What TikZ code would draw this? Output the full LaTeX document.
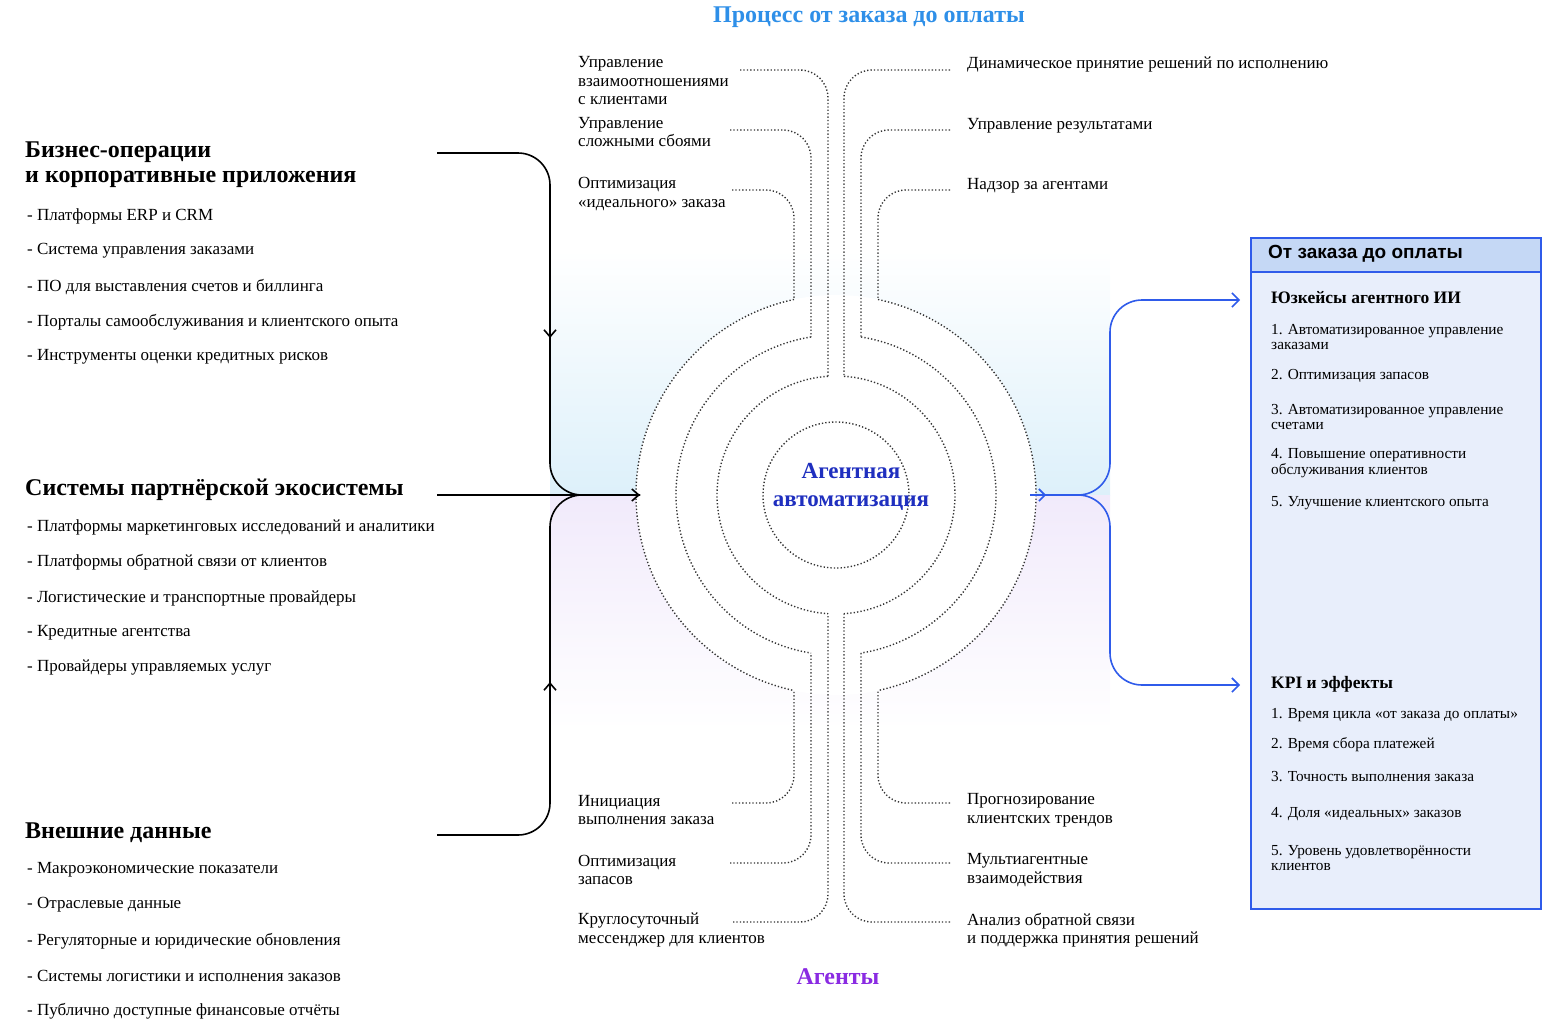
\documentclass[tikz,border=0pt]{standalone}
\usepackage{fontspec}
\setmainfont{Liberation Serif}
\newfontfamily\hdrfont{Liberation Sans}
\usetikzlibrary{arrows.meta}
\definecolor{ttlblue}{HTML}{2E8FE8}
\definecolor{cblue}{HTML}{1F2FBF}
\definecolor{aline}{HTML}{2F5BEA}
\definecolor{apurple}{HTML}{8A2BE2}
\definecolor{boxfill}{HTML}{E8EEFB}
\definecolor{boxhdfill}{HTML}{C5D8F5}
\definecolor{bgblue}{HTML}{DDF0FA}
\definecolor{bgpurple}{HTML}{F1EAFB}
\begin{document}
\begin{tikzpicture}[x=1pt,y=-1pt,
  txt/.style={anchor=west,inner sep=0pt,font=\fontsize{17}{18.5}\selectfont,align=left},
  sm/.style={anchor=west,inner sep=0pt,font=\fontsize{15.3}{15.5}\selectfont,align=left},
  hd/.style={anchor=west,inner sep=0pt,font=\fontsize{24}{25}\selectfont\bfseries,align=left},
  dots/.style={line width=1.4pt,dash pattern=on 1.3pt off 2.1pt,black!80},
  conn/.style={line width=1.6pt,rounded corners=32pt},
  bl/.style={conn,aline}]
\useasboundingbox (0,0) rectangle (1560,1025);
% background gradients
\shade[top color=white,bottom color=bgblue] (550,250) rectangle (1110,495);
\shade[top color=bgpurple,bottom color=white] (550,495) rectangle (1110,730);
\fill[white] (836,495) circle[radius=200];
% titles
\node[inner sep=0pt,text=ttlblue,font=\fontsize{24}{26}\selectfont\bfseries] (title) at (869,17) {Процесс от заказа до оплаты};
\node[inner sep=0pt,text=apurple,font=\fontsize{24}{26}\selectfont\bfseries] (agents) at (838,977) {Агенты};
% rings
\coordinate (c) at (836,495);
\draw[dots] (c) circle[radius=73];
\draw[dots] (c) ++(266.15:119) arc[start angle=266.15,end angle=93.85,radius=119];
\draw[dots] (c) ++(273.85:119) arc[start angle=273.85,end angle=446.15,radius=119];
\draw[dots] (c) ++(261.01:160) arc[start angle=261.01,end angle=98.99,radius=160];
\draw[dots] (c) ++(278.99:160) arc[start angle=278.99,end angle=441.01,radius=160];
\draw[dots] (c) ++(257.88:200) arc[start angle=257.88,end angle=102.12,radius=200];
\draw[dots] (c) ++(282.12:200) arc[start angle=282.12,end angle=437.88,radius=200];
\node[inner sep=0pt,text=cblue,font=\fontsize{23}{28}\selectfont\bfseries,align=center] (center) at (851,487) {Агентная\\автоматизация};
% top labels
\node[txt] (l1) at (578,81) {Управление\\взаимоотношениями\\с клиентами};
\node[txt] (l2) at (578,132) {Управление\\сложными сбоями};
\node[txt] (l3) at (578,194) {Оптимизация\\«идеального» заказа};
\node[txt] (r1) at (967,64) {Динамическое принятие решений по исполнению};
\node[txt] (r2) at (967,126) {Управление результатами};
\node[txt] (r3) at (967,186) {Надзор за агентами};
\node[txt] (bl1) at (578,810) {Инициация\\выполнения заказа};
\node[txt] (bl2) at (578,870) {Оптимизация\\запасов};
\node[txt] (bl3) at (578,930) {Круглосуточный\\мессенджер для клиентов};
\node[txt] (br1) at (967,810) {Прогнозирование\\клиентских трендов};
\node[txt] (br2) at (967,870) {Мультиагентные\\взаимодействия};
\node[txt] (br3) at (967,930) {Анализ обратной связи\\и поддержка принятия решений};
% dotted leaders
\draw[dots,rounded corners=28pt] (740,70) -| (828,376.3);
\draw[dots,rounded corners=28pt] (730,130) -| (811,337);
\draw[dots,rounded corners=28pt] (732,190) -| (794,299.5);
\draw[dots,rounded corners=28pt] (950,70) -| (844,376.3);
\draw[dots,rounded corners=28pt] (950,130) -| (861,337);
\draw[dots,rounded corners=28pt] (950,190) -| (878,299.5);
\draw[dots,rounded corners=28pt] (733,922) -| (828,613.7);
\draw[dots,rounded corners=28pt] (730,863) -| (811,653);
\draw[dots,rounded corners=28pt] (732,803) -| (794,690.5);
\draw[dots,rounded corners=28pt] (950,922) -| (844,613.7);
\draw[dots,rounded corners=28pt] (950,863) -| (861,653);
\draw[dots,rounded corners=28pt] (950,803) -| (878,690.5);
% left text
\node[hd] (h1) at (25,165) {Бизнес-операции\\и корпоративные приложения};
\node[txt] (a1) at (27,216) {- Платформы ERP и CRM};
\node[txt] (a2) at (27,251) {- Система управления заказами};
\node[txt] (a3) at (27,287) {- ПО для выставления счетов и биллинга};
\node[txt] (a4) at (27,322) {- Порталы самообслуживания и клиентского опыта};
\node[txt] (a5) at (27,357) {- Инструменты оценки кредитных рисков};
\node[hd] (h2) at (25,490) {Системы партнёрской экосистемы};
\node[txt] (b1) at (27,527) {- Платформы маркетинговых исследований и аналитики};
\node[txt] (b2) at (27,562) {- Платформы обратной связи от клиентов};
\node[txt] (b3) at (27,598) {- Логистические и транспортные провайдеры};
\node[txt] (b4) at (27,633) {- Кредитные агентства};
\node[txt] (b5) at (27,668) {- Провайдеры управляемых услуг};
\node[hd] (h3) at (25,833) {Внешние данные};
\node[txt] (d1) at (27,870) {- Макроэкономические показатели};
\node[txt] (d2) at (27,905) {- Отраслевые данные};
\node[txt] (d3) at (27,941) {- Регуляторные и юридические обновления};
\node[txt] (d4) at (27,976) {- Системы логистики и исполнения заказов};
\node[txt] (d5) at (27,1011) {- Публично доступные финансовые отчёты};
% left connectors
\coordinate (in) at (640,495);
\coordinate (s1) at (437,153);
\coordinate (s2) at (437,495);
\coordinate (s3) at (437,835);
\draw[conn] (s1) -| (550,495) -- (in);
\draw[conn,-{Straight Barb[length=7pt,width=12pt]}] (550,250) -- (550,338);
\draw[line width=1.6pt,-{Straight Barb[length=7pt,width=12pt]}] (s2) -- (in);
\draw[conn] (s3) -| (550,495) -- (in);
\draw[conn,-{Straight Barb[length=7pt,width=12pt]}] (550,760) -- (550,682);
% right box
\node[draw=aline,line width=1.6pt,fill=boxfill,minimum width=290pt,minimum height=671pt,anchor=north west,inner sep=0pt] (box) at (1250,237) {};
\node[draw=aline,line width=1.6pt,fill=boxhdfill,minimum width=290pt,minimum height=34pt,anchor=north west,inner sep=0pt] (boxhd) at (1250,237) {};
\node[anchor=west,inner sep=0pt,font=\hdrfont\fontsize{19}{20}\selectfont\bfseries] (boxt) at (1268,254) {От заказа до оплаты};
\node[anchor=west,inner sep=0pt,font=\fontsize{17.5}{19}\selectfont\bfseries] (u0) at (1271,298) {Юзкейсы агентного ИИ};
\node[sm] (u1) at (1271,337) {1. Автоматизированное управление\\заказами};
\node[sm] (u2) at (1271,376) {2. Оптимизация запасов};
\node[sm] (u3) at (1271,417) {3. Автоматизированное управление\\счетами};
\node[sm] (u4) at (1271,463) {4. Повышение оперативности\\обслуживания клиентов};
\node[sm] (u5) at (1271,503) {5. Улучшение клиентского опыта};
\node[anchor=west,inner sep=0pt,font=\fontsize{17.5}{19}\selectfont\bfseries] (k0) at (1271,684) {KPI и эффекты};
\node[sm] (k1) at (1271,715) {1. Время цикла «от заказа до оплаты»};
\node[sm] (k2) at (1271,745) {2. Время сбора платежей};
\node[sm] (k3) at (1271,777) {3. Точность выполнения заказа};
\node[sm] (k4) at (1271,814) {4. Доля «идеальных» заказов};
\node[sm] (k5) at (1271,858) {5. Уровень удовлетворённости\\клиентов};
% right connectors
\coordinate (out) at (1036,495);
\coordinate (t1) at (1240,300);
\coordinate (t2) at (1240,685);
\draw[bl,-{Straight Barb[length=7pt,width=14pt]}] (out) -- (1110,495) |- (t1);
\draw[bl,-{Straight Barb[length=7pt,width=14pt]}] (out) -- (1110,495) |- (t2);
\draw[line width=1.6pt,aline,-{Straight Barb[length=6pt,width=12pt]}] (1030,495) -- (1046,495);
\end{tikzpicture}
\end{document}
